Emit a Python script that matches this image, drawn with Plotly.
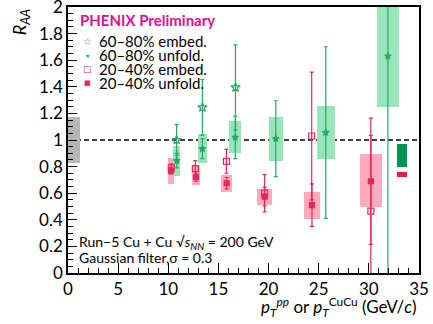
import plotly.graph_objects as go

# 20-40% centrality (pink)
pk_emb_x = [10.3, 12.7, 15.8, 19.6, 24.3, 30.2]
pk_emb_y = [0.79, 0.785, 0.84, 0.60, 1.03, 0.465]
pk_emb_err = [0.03, 0.06, 0.09, 0.14, 0.48, 0.57]

pk_unf_x = [10.27, 12.77, 15.82, 19.6, 24.33, 30.2]
pk_unf_y = [0.77, 0.72, 0.675, 0.575, 0.51, 0.69]
pk_unf_err = [0.025, 0.03, 0.043, 0.07, 0.16, 0.475]
pk_sys_lo = [0.667, 0.66, 0.611, 0.51, 0.407, 0.493]
pk_sys_hi = [0.867, 0.805, 0.737, 0.629, 0.609, 0.893]
pk_sys_w = [0.66, 0.76, 1.16, 1.45, 1.69, 2.19]

# 60-80% centrality (green)
gr_emb_x = [10.83, 13.4, 16.7]
gr_emb_y = [1.0, 1.245, 1.395]
gr_emb_err = [0.115, 0.21, 0.32]

gr_unf_x = [10.85, 13.4, 16.68, 20.72, 25.7, 31.9]
gr_unf_y = [0.845, 0.935, 1.02, 1.01, 1.056, 1.63]
gr_unf_err = [0.055, 0.075, 0.16, 0.285, 0.645, 1.75]
gr_sys_lo = [0.73, 0.825, 0.9, 0.845, 0.855, 1.247]
gr_sys_hi = [0.955, 1.046, 1.146, 1.172, 1.257, 2.01]
gr_sys_w = [0.73, 0.95, 1.23, 1.42, 1.82, 2.26]

# global uncertainties
glob_x, glob_w, glob_lo, glob_hi = 0.575, 1.15, 0.83, 1.17
norm_x, norm_w = 33.3, 1.05
norm_gr = (0.795, 0.97)
norm_pk = (0.72, 0.762)

GREEN = "rgb(40,168,100)"
GREEN_BOX = "rgb(152,229,187)"
PINK = "rgb(225,40,90)"
PINK_BOX = "rgb(255,170,188)"
FONT = "Lato"

fig = go.Figure()

def box(x, lo, hi, w, color):
    fig.add_trace(go.Bar(x=x, base=lo, y=[h - l for h, l in zip(hi, lo)], width=w,
                         marker=dict(color=color, line=dict(width=0)),
                         showlegend=False, hoverinfo="skip"))

box([glob_x], [glob_lo], [glob_hi], [glob_w], "rgb(182,182,182)")
box(pk_unf_x, pk_sys_lo, pk_sys_hi, pk_sys_w, PINK_BOX)
box(gr_unf_x, gr_sys_lo, gr_sys_hi, gr_sys_w, GREEN_BOX)
box([norm_x], [norm_gr[0]], [norm_gr[1]], [norm_w], "rgb(0,145,80)")
box([norm_x], [norm_pk[0]], [norm_pk[1]], [norm_w], "rgb(222,30,80)")

def pts(x, y, err, color, symbol, size):
    fig.add_trace(go.Scatter(x=x, y=y, mode="markers",
                             error_y=dict(type="data", array=err, color=color, thickness=1.2, width=2),
                             marker=dict(color=color, symbol=symbol, size=size,
                                         line=dict(color=color, width=1.2)),
                             showlegend=False, cliponaxis=True))

pts(pk_emb_x, pk_emb_y, pk_emb_err, PINK, "square-open", 6)
pts(pk_unf_x, pk_unf_y, pk_unf_err, PINK, "square", 5)
pts(gr_emb_x, gr_emb_y, gr_emb_err, GREEN, "star-open", 7)
pts(gr_unf_x, gr_unf_y, gr_unf_err, GREEN, "star", 5)

fig.add_hline(y=1, line=dict(color="black", width=1.5, dash="5px,3px"), layer="below")

# paper-coordinate helpers (plot area 68..419 x 7.5..272.7 px)
def px(xp):
    return (xp - 67.7) / 351.3

def py(yp):
    return (272.7 - yp) / 265.2

ann = []
ann.append(dict(x=px(78), y=py(20), text="<b>PHENIX Preliminary</b>", xanchor="left", yanchor="middle",
                font=dict(size=15, color="rgb(226,16,140)", family=FONT)))
legend_rows = [
    ("☆", GREEN, 10, "60–80% embed."),
    ("★", GREEN, 6, "60–80% unfold."),
    ("□", PINK, 9, "20–40% embed."),
    ("■", PINK, 7, "20–40% unfold."),
]
for i, (g, c, s, t) in enumerate(legend_rows):
    yy = 41.7 + i * 13.7
    ann.append(dict(x=px(87), y=py(yy), text=g, xanchor="center", yanchor="middle",
                    font=dict(size=s, color=c, family="DejaVu Sans")))
    ann.append(dict(x=px(97), y=py(yy), text=t, xanchor="left", yanchor="middle",
                    font=dict(size=15, color="black", family=FONT)))
ann.append(dict(x=px(77), y=py(242.5), text="Run−5 Cu + Cu √<i>s</i><sub><i>NN</i></sub> = 200 GeV",
                xanchor="left", yanchor="middle", font=dict(size=14, color="black", family=FONT)))
ann.append(dict(x=px(77), y=py(257.5), text="Gaussian filter,σ = 0.3",
                xanchor="left", yanchor="middle", font=dict(size=14, color="black", family=FONT)))
ann.append(dict(x=px(20), y=1, text="<i>R</i><sub><i>AA</i></sub>", textangle=-90,
                xanchor="center", yanchor="top", font=dict(size=18, color="black", family=FONT)))
ann.append(dict(x=1, y=py(307), text="<i>p</i><sub><i>T</i></sub><sup><i>pp</i></sup> or <i>p</i><sub><i>T</i></sub><sup>CuCu</sup> (GeV/<i>c</i>)",
                xanchor="right", yanchor="middle", font=dict(size=17, color="black", family=FONT)))
for a in ann:
    a.update(xref="paper", yref="paper", showarrow=False)

fig.update_layout(
    width=433, height=324,
    margin=dict(l=68, r=14, t=7, b=51),
    paper_bgcolor="white", plot_bgcolor="white",
    barmode="overlay", bargap=0,
    annotations=ann,
    font=dict(family=FONT, color="black"),
    xaxis=dict(range=[0, 35], tickvals=[0, 5, 10, 15, 20, 25, 30, 35], ticks="inside", ticklen=10,
               tickwidth=1, tickcolor="black", showgrid=False, zeroline=False,
               showline=True, linecolor="black", linewidth=1.5, mirror=True,
               ticklabeloverflow="allow", automargin=False,
               tickfont=dict(size=17), minor=dict(dtick=1, ticks="inside", ticklen=5, tickcolor="black")),
    yaxis=dict(range=[0, 2], dtick=0.2, ticks="inside", ticklen=9, tickwidth=1, tickcolor="black",
               showgrid=False, zeroline=False, showline=True, linecolor="black", linewidth=1.5,
               mirror=True, tickfont=dict(size=17), ticklabeloverflow="allow", automargin=False,
               minor=dict(dtick=0.05, ticks="inside", ticklen=5, tickcolor="black")),
)

fig.write_html("out.html", config={"displayModeBar": False},
               post_script="document.body.style.margin='0';")
